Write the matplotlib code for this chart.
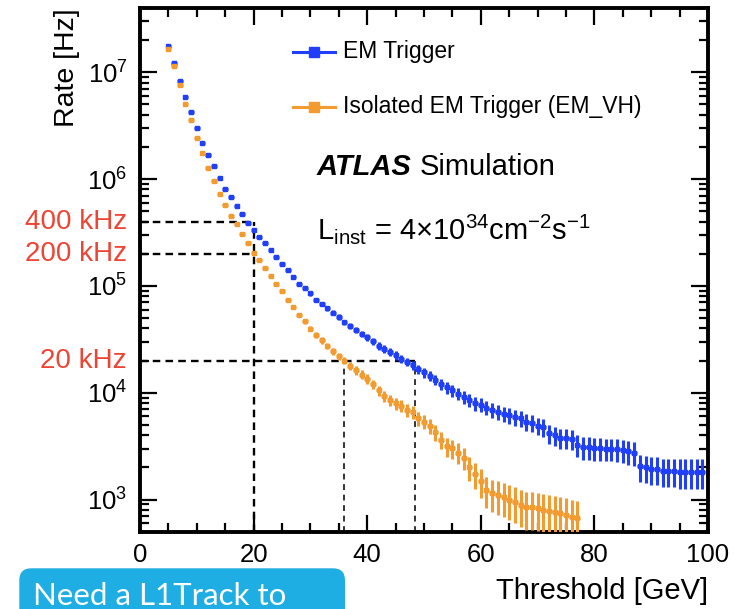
import numpy as np
import matplotlib
matplotlib.use("Agg")
import matplotlib.pyplot as plt
from matplotlib.patches import FancyBboxPatch
from matplotlib.transforms import IdentityTransform, blended_transform_factory
from matplotlib.ticker import MultipleLocator, LogLocator, NullFormatter, LogFormatterMathtext

plt.rcParams['font.family'] = ['Liberation Sans', 'DejaVu Sans']
plt.rcParams['mathtext.fontset'] = 'custom'
plt.rcParams['mathtext.rm'] = 'Liberation Sans'
plt.rcParams['mathtext.it'] = 'Liberation Sans:italic'
plt.rcParams['mathtext.bf'] = 'Liberation Sans:bold'

# ---------------- data ----------------
em_threshold = list(range(5, 100))
em_rate = [1.76e7, 1.21e7, 8.36e6, 5.92e6, 4.22e6, 2.99e6, 2.19e6, 1.67e6, 1.32e6, 1.03e6,
           8.13e5, 6.85e5, 5.56e5, 4.71e5, 3.89e5, 3.36e5, 2.88e5, 2.51e5, 2.19e5, 1.86e5,
           1.62e5, 1.40e5, 1.20e5, 1.05e5, 9.55e4, 8.51e4, 7.41e4, 6.76e4, 6.17e4, 5.62e4,
           5.11e4, 4.57e4, 4.22e4, 3.89e4, 3.55e4, 3.31e4, 3.02e4, 2.75e4, 2.57e4, 2.40e4,
           2.24e4, 2.09e4, 1.95e4, 1.82e4, 1.66e4, 1.55e4, 1.45e4, 1.32e4, 1.20e4, 1.12e4,
           1.05e4, 9.77e3, 9.12e3, 8.51e3, 7.94e3, 7.76e3, 7.24e3, 6.92e3, 6.61e3, 6.31e3,
           6.17e3, 5.89e3, 5.75e3, 5.37e3, 5.25e3, 4.90e3, 4.79e3, 4.17e3, 3.98e3, 3.80e3,
           3.80e3, 3.72e3, 3.24e3, 3.09e3, 3.09e3, 3.02e3, 3.02e3, 2.99e3, 2.99e3, 2.95e3,
           2.88e3, 2.82e3, 2.75e3, 2.04e3, 2.00e3, 1.95e3, 1.95e3, 1.86e3, 1.86e3, 1.86e3,
           1.82e3, 1.82e3, 1.82e3, 1.82e3, 1.82e3]

iso_threshold = list(range(5, 78))
iso_rate = [1.65e7, 1.14e7, 7.55e6, 5.09e6, 3.55e6, 2.43e6, 1.75e6, 1.27e6, 9.60e5, 7.31e5,
            5.77e5, 4.48e5, 3.77e5, 3.09e5, 2.51e5, 2.03e5, 1.74e5, 1.48e5, 1.25e5, 1.05e5,
            8.91e4, 7.41e4, 6.31e4, 5.37e4, 4.68e4, 3.98e4, 3.47e4, 3.09e4, 2.75e4, 2.45e4,
            2.19e4, 2.00e4, 1.78e4, 1.62e4, 1.48e4, 1.35e4, 1.20e4, 1.05e4, 9.33e3, 8.51e3,
            7.94e3, 7.59e3, 6.92e3, 6.61e3, 5.75e3, 5.37e3, 4.90e3, 4.27e3, 3.63e3, 3.16e3,
            3.02e3, 2.75e3, 2.45e3, 2.00e3, 1.74e3, 1.48e3, 1.23e3, 1.15e3, 1.10e3, 1.05e3,
            1.00e3, 955, 891, 851, 851, 832, 794, 776, 759, 741,
            724, 692, 676]

# statistical weight (Hz) of one simulated event, per sample
em_hz_per_event = 170.0
iso_hz_per_event = 130.0
bin_half_width = 0.5          # GeV

rate_limits_hz = [4e5, 2e5, 2e4]
rate_limit_labels = ['400 kHz', '200 kHz', '20 kHz']
cut_400k_threshold = 20.0
cut_20k_iso_threshold = 36.0
cut_20k_em_threshold = 48.5

series_labels = ['EM Trigger', 'Isolated EM Trigger (EM_VH)']
blue = '#1f3ffa'
orange = '#f39b2f'
red = '#ee4434'

# ---------------- figure ----------------
fig = plt.figure(figsize=(7.35, 6.09), dpi=100)
ax = fig.add_axes([140/735, 77.3/609, 568/735, 523.7/609])
ax.set_yscale('log')
ax.set_xlim(0, 100)
ax.set_ylim(5e2, 4e7)

for xs, ys, w, col in [(em_threshold, em_rate, em_hz_per_event, blue),
                       (iso_threshold, iso_rate, iso_hz_per_event, orange)]:
    xs = np.array(xs, float)
    ys = np.array(ys, float)
    err = np.sqrt(ys * w)
    ax.errorbar(xs, ys, xerr=bin_half_width, yerr=err, fmt='s', ms=2.5, color=col,
                ecolor=col, elinewidth=2.2, capsize=0, zorder=3)

# guide lines
ymin = ax.get_ylim()[0]
dash = dict(color='black', lw=1.7, ls=(0, (3.2, 2.2)), zorder=2)
ax.plot([0, cut_400k_threshold], [rate_limits_hz[0]] * 2, **dash)
ax.plot([0, cut_400k_threshold], [rate_limits_hz[1]] * 2, **dash)
ax.plot([cut_400k_threshold] * 2, [ymin, rate_limits_hz[0]], **dash)
ax.plot([0, cut_20k_em_threshold], [rate_limits_hz[2]] * 2, **dash)
dash2 = dict(color='#333333', lw=1.4, ls=(0, (3.0, 2.4)), zorder=2)
ax.plot([cut_20k_iso_threshold] * 2, [ymin, rate_limits_hz[2]], **dash2)
ax.plot([cut_20k_em_threshold] * 2, [ymin, rate_limits_hz[2]], **dash2)

# red rate labels
trans = blended_transform_factory(ax.transAxes, ax.transData)
for r, lab in zip(rate_limits_hz, rate_limit_labels):
    ax.text(-0.023, r, lab, transform=trans, ha='right', va='center',
            color=red, fontsize=20)

# ticks
ax.xaxis.set_major_locator(MultipleLocator(20))
ax.xaxis.set_minor_locator(MultipleLocator(5))
ax.yaxis.set_major_locator(LogLocator(base=10))
ax.yaxis.set_minor_locator(LogLocator(base=10, subs=np.arange(2, 10)))
ax.yaxis.set_minor_formatter(NullFormatter())
ax.yaxis.set_major_formatter(LogFormatterMathtext())
ax.tick_params(which='both', direction='in', top=True, right=True, width=1.6)
ax.tick_params(which='major', length=12, labelsize=18.5)
ax.tick_params(axis='x', which='major', pad=8)
ax.tick_params(axis='y', which='major', pad=9)
ax.tick_params(which='minor', length=6.5)
for s in ax.spines.values():
    s.set_linewidth(2.8)

ax.set_ylabel('Rate [Hz]', fontsize=20.5, loc='top')
ax.yaxis.set_label_coords(-0.106, 1.0)
ax.set_xlabel('Threshold [GeV]', fontsize=21, loc='right')
ax.xaxis.set_label_coords(1.0, -0.086)

# legend (drawn by hand to match placement)
for (ly, lab, col) in [(0.916, series_labels[0], blue), (0.811, series_labels[1], orange)]:
    ax.plot([0.269, 0.306, 0.343], [ly, ly, ly], transform=ax.transAxes, color=col,
            lw=2.2, marker='s', ms=6.5, markevery=[1], clip_on=False)
    ax.text(0.357, ly, lab, transform=ax.transAxes, ha='left', va='center', fontsize=16.5)

ax.text(0.3116, 0.681, 'ATLAS', transform=ax.transAxes, fontsize=21,
        fontweight='bold', fontstyle='italic', ha='left', va='baseline')
ax.text(0.493, 0.681, 'Simulation', transform=ax.transAxes, fontsize=21,
        ha='left', va='baseline')
ax.text(0.311, 0.558,
        r'L$_{\mathregular{inst}}$ = 4$\times$10$^{\mathregular{34}}$cm$^{\mathregular{-2}}$s$^{\mathregular{-1}}$',
        transform=ax.transAxes, fontsize=21, ha='left', va='baseline')

# slide call-out box (cut by the bottom edge)
box = FancyBboxPatch((19.3, -30), 325.7, 70.7, boxstyle='round,pad=0,rounding_size=12',
                     transform=IdentityTransform(), facecolor='#1faee3', edgecolor='none')
fig.patches.append(box)
fig.text(33, 4, 'Need a L1Track to', transform=IdentityTransform(), color='white',
         fontsize=22.5, family=['Lato', 'DejaVu Sans'], ha='left', va='baseline')

fig.savefig('out.png', dpi=100)
